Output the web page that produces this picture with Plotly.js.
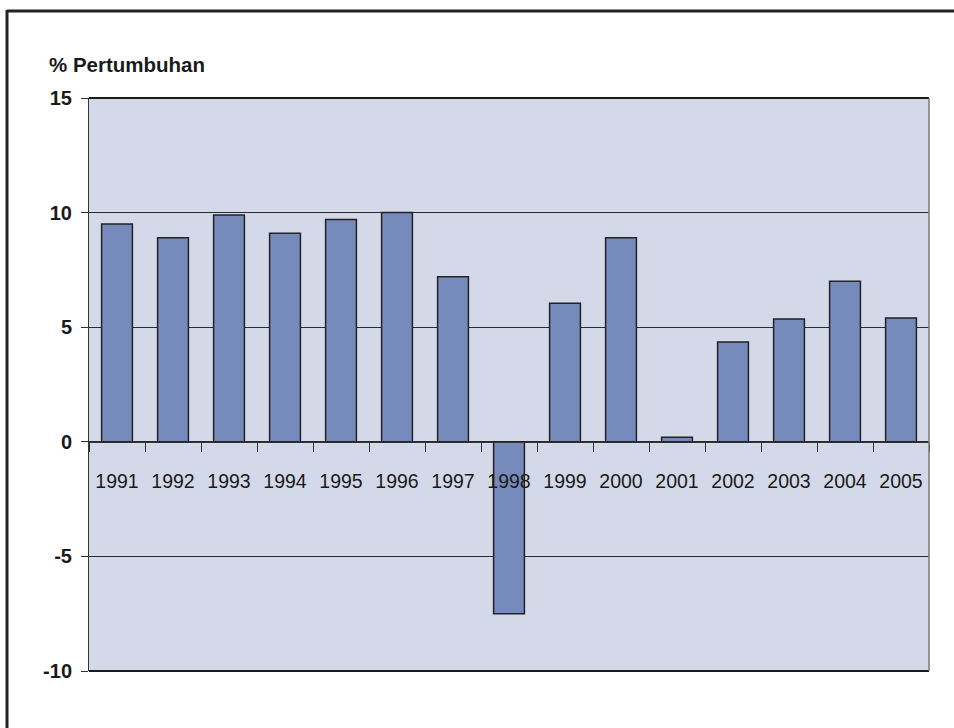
<!DOCTYPE html>
<html>
<head>
<meta charset="utf-8">
<script src="https://cdn.plot.ly/plotly-3.0.1.min.js"></script>
<style>html,body{margin:0;padding:0;background:#fff;}#chart{width:954px;height:728px;}</style>
</head>
<body>
<div id="chart"></div>
<script>
var years = ["1991","1992","1993","1994","1995","1996","1997","1998","1999","2000","2001","2002","2003","2004","2005"];
var growth = [9.5, 8.9, 9.9, 9.1, 9.7, 10.0, 7.2, -7.5, 6.05, 8.9, 0.2, 4.35, 5.36, 7.0, 5.4];
var yTicks = [-10, -5, 0, 5, 10, 15];
var yTitle = "% Pertumbuhan";

var W = 954, H = 728;
var m = {l: 89, r: 25, t: 98, b: 57};
var pw = W - m.l - m.r, ph = H - m.t - m.b;
function px2x(p){ return (p - m.l) / pw; }
function py2y(p){ return (H - m.b - p) / ph; }

var trace = {
  type: "bar",
  x: years,
  y: growth,
  width: 0.55,
  marker: {color: "#768BBB", line: {color: "#222222", width: 1.5}},
  hoverinfo: "x+y"
};

var layout = {
  width: W, height: H,
  margin: m,
  paper_bgcolor: "#ffffff",
  plot_bgcolor: "#D3D9E8",
  showlegend: false,
  font: {family: "Liberation Sans, Arial, sans-serif", color: "#1a1a1a"},
  title: {
    text: "<b>" + yTitle + "</b>",
    x: 49 / W, xref: "container", xanchor: "left",
    y: 1 - 65 / H, yref: "container", yanchor: "middle",
    font: {size: 20.5, family: "Liberation Sans, Arial, sans-serif", color: "#1a1a1a"}
  },
  xaxis: {
    type: "category",
    anchor: "free",
    position: (0 - yTicks[0]) / (yTicks[yTicks.length-1] - yTicks[0]),
    showline: true, linecolor: "#333333", linewidth: 1,
    ticks: "outside", tickson: "boundaries", ticklen: 9, tickcolor: "#333333", tickwidth: 1,
    ticklabelstandoff: 22,
    showgrid: false, zeroline: false,
    tickfont: {size: 19.5, family: "Liberation Sans, Arial, sans-serif", color: "#1a1a1a"},
    fixedrange: true
  },
  yaxis: {
    range: [yTicks[0], yTicks[yTicks.length-1]],
    tickvals: yTicks,
    ticktext: yTicks.map(function(v){ return "<b>" + v + "</b>"; }),
    showline: true, linecolor: "#333333", linewidth: 1, mirror: false,
    ticks: "outside", ticklen: 7, tickcolor: "#333333",
    ticklabelstandoff: 5,
    showgrid: true, gridcolor: "#2a2a2a", gridwidth: 1,
    zeroline: true, zerolinecolor: "#2a2a2a", zerolinewidth: 1,
    tickfont: {size: 20, family: "Liberation Sans, Arial, sans-serif", color: "#1a1a1a"},
    fixedrange: true
  },
  shapes: [
    {type: "line", xref: "paper", yref: "paper", x0: 0, x1: 1, y0: 1, y1: 1, line: {color: "#1a1a1a", width: 2}},
    {type: "line", xref: "paper", yref: "paper", x0: 0, x1: 1, y0: 0, y1: 0, line: {color: "#1a1a1a", width: 2}},
    {type: "line", xref: "paper", yref: "paper", x0: 1, x1: 1, y0: 0, y1: 1, line: {color: "#777777", width: 1.5}},
    {type: "line", xref: "paper", yref: "paper", x0: px2x(7), x1: px2x(W + 5), y0: py2y(11), y1: py2y(11), line: {color: "#222222", width: 3}},
    {type: "line", xref: "paper", yref: "paper", x0: px2x(7), x1: px2x(7), y0: py2y(10), y1: py2y(H + 5), line: {color: "#222222", width: 3}}
  ]
};

Plotly.newPlot("chart", [trace], layout, {displayModeBar: false, staticPlot: true});
</script>
</body>
</html>
